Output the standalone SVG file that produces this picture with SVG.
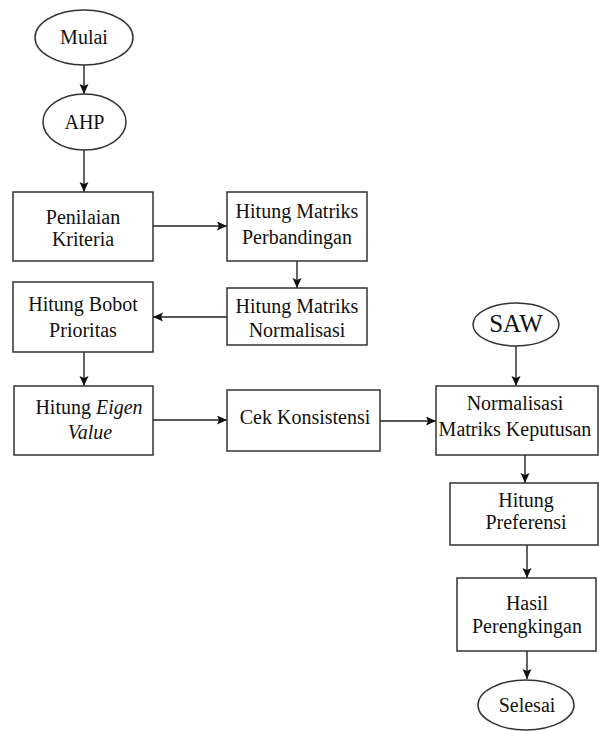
<svg xmlns="http://www.w3.org/2000/svg" width="599" height="731" viewBox="0 0 599 731">
<defs>
<marker id="ah" markerUnits="userSpaceOnUse" markerWidth="11" markerHeight="10" refX="10" refY="4.5" orient="auto">
<path d="M0,0 L10,4.5 L0,9 L2,4.5 z" fill="#111"/>
</marker>
<style>
.n{fill:#fff;stroke:#333;stroke-width:1.5}
.t{font-family:"Liberation Serif","Times New Roman",serif;font-size:20px;fill:#111;text-anchor:middle}
.c line{stroke:#222;stroke-width:1.4;marker-end:url(#ah)}
</style>
</defs>
<rect width="599" height="731" fill="#fff"/>
<g class="c" id="connectors">
<line x1="84" y1="65" x2="84" y2="94"/>
<line x1="84" y1="150" x2="84" y2="192"/>
<line x1="153" y1="226" x2="227" y2="226"/>
<line x1="297" y1="261" x2="297" y2="288"/>
<line x1="227" y1="317" x2="153" y2="317"/>
<line x1="84" y1="352" x2="84" y2="386"/>
<line x1="153" y1="420" x2="227" y2="420"/>
<line x1="380" y1="421" x2="436" y2="421"/>
<line x1="516" y1="346" x2="516" y2="386"/>
<line x1="525" y1="455" x2="525" y2="483"/>
<line x1="527" y1="545" x2="527" y2="578"/>
<line x1="527" y1="651" x2="527" y2="679"/>
</g>
<g id="mulai"><ellipse class="n" cx="84" cy="37.5" rx="49" ry="27.5"/><text class="t" x="84" y="44">Mulai</text></g>
<g id="ahp"><ellipse class="n" cx="84.5" cy="122" rx="41.5" ry="28"/><text class="t" x="84.5" y="129">AHP</text></g>
<g id="penilaian"><rect class="n" x="13" y="192" width="140" height="69"/><text class="t" x="83" y="223.5">Penilaian</text><text class="t" x="83" y="246">Kriteria</text></g>
<g id="perbandingan"><rect class="n" x="227" y="192" width="140" height="69"/><text class="t" x="297" y="217.5">Hitung Matriks</text><text class="t" x="297" y="244">Perbandingan</text></g>
<g id="normalisasi"><rect class="n" x="227" y="288" width="140" height="57"/><text class="t" x="297" y="312.5">Hitung Matriks</text><text class="t" x="297" y="336.5">Normalisasi</text></g>
<g id="bobot"><rect class="n" x="13" y="282" width="140" height="70"/><text class="t" x="83" y="310.5">Hitung Bobot</text><text class="t" x="83" y="336.5">Prioritas</text></g>
<g id="eigen"><rect class="n" x="14" y="386" width="139" height="69"/><text class="t" x="89" y="414">Hitung <tspan font-style="italic">Eigen</tspan></text><text class="t" x="90" y="439" font-style="italic">Value</text></g>
<g id="cek"><rect class="n" x="227" y="390" width="153" height="61"/><text class="t" x="305" y="424">Cek Konsistensi</text></g>
<g id="saw"><ellipse class="n" cx="516" cy="324.5" rx="43" ry="21.5"/><text class="t" x="516" y="332" style="font-size:25px">SAW</text></g>
<g id="normkep"><rect class="n" x="436" y="386" width="162" height="69"/><text class="t" x="515" y="410">Normalisasi</text><text class="t" x="515" y="436">Matriks Keputusan</text></g>
<g id="preferensi"><rect class="n" x="450" y="483" width="148" height="62"/><text class="t" x="526" y="506.5">Hitung</text><text class="t" x="526" y="528.5">Preferensi</text></g>
<g id="hasil"><rect class="n" x="457" y="578" width="139" height="73"/><text class="t" x="527" y="610">Hasil</text><text class="t" x="527" y="633">Perengkingan</text></g>
<g id="selesai"><ellipse class="n" cx="526" cy="705" rx="48" ry="25"/><text class="t" x="527" y="712">Selesai</text></g>
</svg>
